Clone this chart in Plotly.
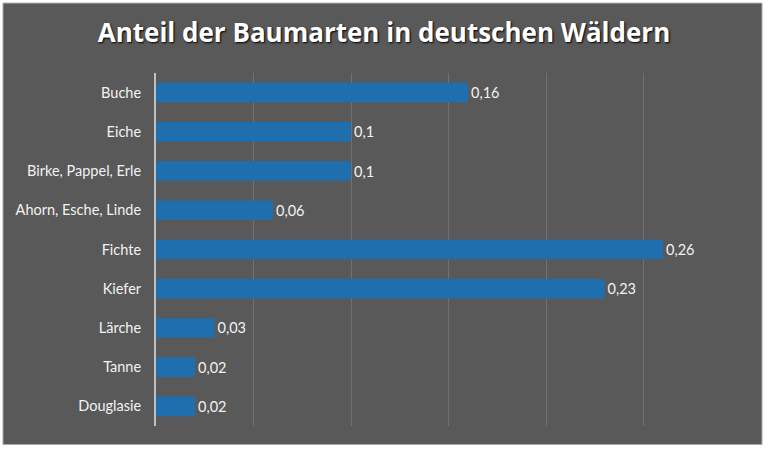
import plotly.graph_objects as go

categories = ["Buche", "Eiche", "Birke, Pappel, Erle", "Ahorn, Esche, Linde",
              "Fichte", "Kiefer", "Lärche", "Tanne", "Douglasie"]
values = [0.16, 0.10, 0.10, 0.06, 0.26, 0.23, 0.03, 0.02, 0.02]
labels = [str(v).replace(".", ",") for v in values]

W, H = 768, 451
L, R, T, B = 156, 27, 73, 24.5
pw = W - L - R
ph = H - T - B

fig = go.Figure(go.Bar(
    x=values, y=categories, orientation="h",
    marker=dict(color="#1F6EAE", line=dict(width=0)),
    text=labels, textposition="outside", cliponaxis=False,
    textfont=dict(color="#F2F2F2", size=14.5, family="Lato"),
    hoverinfo="skip",
))

fig.add_shape(type="rect", xref="paper", yref="paper",
              x0=(3 - L) / pw, x1=(762 - L) / pw,
              y0=(H - B - 445) / ph, y1=(H - B - 3) / ph,
              fillcolor="#595959", line=dict(color="#A6A6A6", width=1),
              layer="below")

fig.update_layout(
    width=W, height=H,
    margin=dict(l=L, r=R, t=T, b=B),
    paper_bgcolor="white", plot_bgcolor="rgba(0,0,0,0)",
    bargap=0.5, showlegend=False,
    title=dict(text="<b>Anteil der Baumarten in deutschen Wäldern</b>",
               x=0.5, xref="container", xanchor="center",
               y=1 - 33 / H, yanchor="middle",
               font=dict(family="Open Sans", size=26, color="#FFFFFF",
                         shadow="1px 1px 2px #000000")),
    xaxis=dict(range=[0, 0.3], dtick=0.05, showgrid=True,
               gridcolor="#707070", gridwidth=1, zeroline=False,
               showticklabels=False, showline=False, fixedrange=True),
    yaxis=dict(autorange="reversed", showline=True, linecolor="#C0C0C0",
               linewidth=2, showgrid=False, ticks="",
               ticklabelstandoff=10, fixedrange=True,
               tickfont=dict(family="Lato", size=14.5, color="#F2F2F2")),
)

fig.write_html("out.html", config={"displayModeBar": False},
               post_script="document.body.style.margin='0';document.body.style.overflow='hidden';")
